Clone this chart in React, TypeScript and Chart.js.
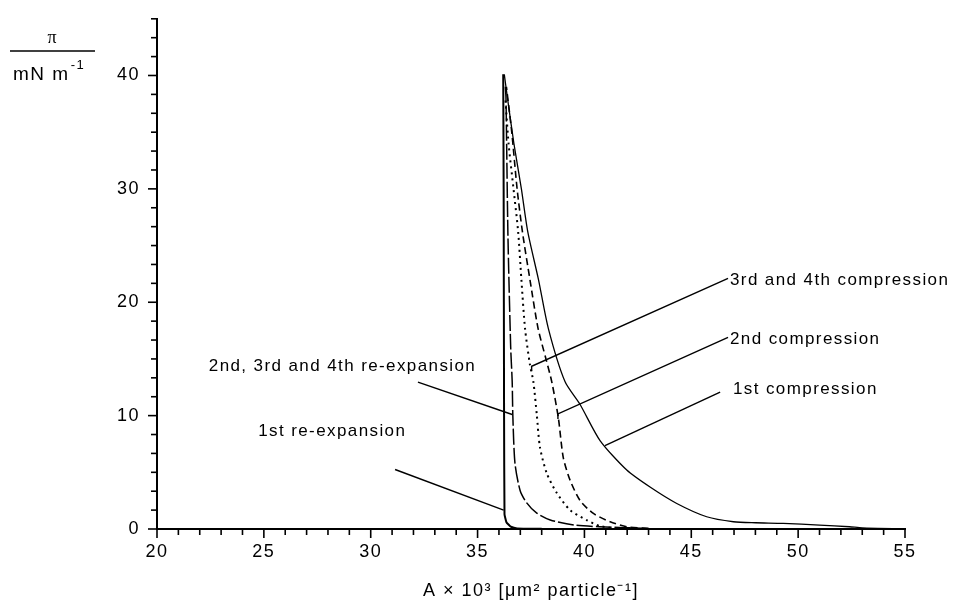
import React, { useEffect, useRef } from "react";
import { Chart, registerables } from "chart.js";
Chart.register(...registerables);

// ---- data (A × 10^3 µm² per particle, π in mN/m) ----
const firstCompA = [55, 53, 52.4, 51, 49.3, 48, 46.97, 45.72, 44.32, 43.07, 41.98, 40.73, 39.79, 39.09, 38.31, 37.85, 37.35, 37.05, 36.7, 36.4, 36.25];
const firstCompPi = [0.02, 0.1, 0.2, 0.35, 0.5, 0.55, 0.64, 1.08, 2.25, 3.7, 5.2, 7.8, 11.0, 13.0, 17.7, 22, 26.2, 30, 34, 38, 40.1];

const secondCompA = [43, 41.98, 41.2, 40.42, 39.8, 39.33, 39.01, 38.78, 38.47, 38.2, 37.83, 37.45, 37.1, 36.85, 36.6, 36.35];
const secondCompPi = [0.05, 0.2, 0.64, 1.37, 2.5, 4.3, 6.3, 9.8, 13, 15, 17.7, 22, 26.2, 30, 35, 39];

const thirdFourthCompA = [41.5, 40.73, 40.1, 39.33, 38.7, 38.24, 37.92, 37.77, 37.61, 37.45, 37.22, 37.05, 36.9, 36.67, 36.45, 36.3];
const thirdFourthCompPi = [0.05, 0.26, 0.79, 1.66, 3.2, 4.9, 7.2, 10.1, 13, 14.5, 17.7, 22, 26.2, 30.2, 34, 38];

const laterReExpA = [36.3, 36.33, 36.42, 36.55, 36.62, 36.65, 36.75, 36.99, 37.3, 37.77, 38.4, 39.5, 40.7, 43];
const laterReExpPi = [39, 38, 26, 16, 13, 10, 5.8, 3.4, 2.3, 1.4, 0.8, 0.35, 0.2, 0.05];

const firstReExpA = [36.2, 36.22, 36.24, 36.26, 36.35, 36.55, 36.85, 38];
const firstReExpPi = [40.1, 30, 10, 1.3, 0.6, 0.2, 0.05, 0.02];

// ---- axes ----
const xMin = 20, xMax = 55, xMinorStep = 1, xMajorStep = 5;
const yMin = 0, yMax = 45, yMinorStep = 10 / 6, yMajorStep = 10;

// ---- annotations ----
const annLabels = ["3rd and 4th compression", "2nd compression", "1st compression", "2nd, 3rd and 4th re-expansion", "1st re-expansion"];
const annTextA = [46.81, 46.81, 46.95, 28.68, 28.2];
const annTextPi = [21.96, 16.7, 12.3, 14.35, 8.66];
const annAlign = ["left", "left", "left", "center", "center"];
const annFromA = [46.72, 46.72, 46.35, 32.21, 31.14];
const annFromPi = [22.1, 16.9, 12.07, 12.95, 5.25];
const annToA = [37.53, 38.76, 40.96, 36.62, 36.22];
const annToPi = [14.35, 10.15, 7.35, 10.1, 1.66];
const annHook = [true, true, false, false, false];

const FONT = "'Liberation Sans', Arial, Helvetica, sans-serif";

function pts(a: number[], p: number[]) {
  return a.map((v, i) => ({ x: v, y: p[i] }));
}
function range(min: number, max: number, step: number) {
  const out: number[] = [];
  const n = Math.round((max - min) / step);
  for (let i = 0; i <= n; i++) out.push(min + i * step);
  return out;
}
function isMajor(v: number, step: number) {
  return Math.abs(v / step - Math.round(v / step)) < 1e-6;
}

const decor = {
  id: "decor",
  beforeDraw(chart: any) {
    chart.ctx.letterSpacing = "1.5px";
  },
  afterDraw(chart: any) {
    const { ctx, chartArea, scales } = chart;
    const xs = scales.x, ys = scales.y;
    ctx.save();
    ctx.strokeStyle = "#000";
    ctx.fillStyle = "#000";
    ctx.lineWidth = 1.6;
    // ticks
    for (const t of xs.ticks) {
      const px = xs.getPixelForValue(t.value);
      const len = isMajor(t.value, xMajorStep) ? 9 : 6;
      ctx.beginPath();
      ctx.moveTo(px, chartArea.bottom);
      ctx.lineTo(px, chartArea.bottom + len);
      ctx.stroke();
    }
    for (const t of ys.ticks) {
      const py = ys.getPixelForValue(t.value);
      const len = isMajor(t.value, yMajorStep) ? 9 : 6;
      ctx.beginPath();
      ctx.moveTo(chartArea.left, py);
      ctx.lineTo(chartArea.left - len, py);
      ctx.stroke();
    }
    // annotations
    ctx.lineWidth = 1.4;
    ctx.font = `17px ${FONT}`;
    ctx.letterSpacing = "1.4px";
    ctx.textBaseline = "middle";
    annLabels.forEach((lab, i) => {
      const x1 = xs.getPixelForValue(annFromA[i]);
      const y1 = ys.getPixelForValue(annFromPi[i]);
      const x2 = xs.getPixelForValue(annToA[i]);
      const y2 = ys.getPixelForValue(annToPi[i]);
      ctx.beginPath();
      ctx.moveTo(x1, y1);
      ctx.lineTo(x2, y2);
      if (annHook[i]) ctx.lineTo(x2, y2 + 5);
      ctx.stroke();
      ctx.textAlign = annAlign[i];
      ctx.fillText(lab, xs.getPixelForValue(annTextA[i]), ys.getPixelForValue(annTextPi[i]));
    });
    // y-axis title as fraction
    ctx.letterSpacing = "0px";
    ctx.textAlign = "center";
    ctx.font = `18px 'Liberation Serif', 'Times New Roman', serif`;
    ctx.fillText("π", 52, 38);
    ctx.lineWidth = 1.5;
    ctx.beginPath();
    ctx.moveTo(10, 51);
    ctx.lineTo(95, 51);
    ctx.stroke();
    ctx.font = `19px ${FONT}`;
    ctx.letterSpacing = "1.5px";
    ctx.textAlign = "left";
    ctx.textBaseline = "alphabetic";
    ctx.fillText("mN m", 13, 80);
    const w = ctx.measureText("mN m").width;
    ctx.font = `13px ${FONT}`;
    ctx.fillText("-1", 13 + w + 1, 69);
    ctx.restore();
  },
};

export default function App() {
  const ref = useRef<HTMLCanvasElement | null>(null);
  useEffect(() => {
    if (!ref.current) return;
    const common = { pointRadius: 0, borderColor: "#000", fill: false, tension: 0.25 };
    const chart = new Chart(ref.current, {
      type: "line",
      data: {
        datasets: [
          { ...common, label: "1st compression", data: pts(firstCompA, firstCompPi), borderWidth: 1.3 },
          { ...common, label: "2nd compression", data: pts(secondCompA, secondCompPi), borderWidth: 1.6, borderDash: [7, 4] },
          { ...common, label: "3rd and 4th compression", data: pts(thirdFourthCompA, thirdFourthCompPi), borderWidth: 2, borderDash: [2, 4] },
          { ...common, label: "2nd, 3rd and 4th re-expansion", data: pts(laterReExpA, laterReExpPi), borderWidth: 1.5, borderDash: [16, 3] },
          { ...common, label: "1st re-expansion", data: pts(firstReExpA, firstReExpPi), borderWidth: 2, tension: 0.1 },
        ],
      },
      options: {
        animation: false,
        responsive: false,
        maintainAspectRatio: false,
        layout: { padding: { top: 15, right: 58, left: 0, bottom: 0 } },
        plugins: { legend: { display: false }, tooltip: { enabled: false } },
        scales: {
          x: {
            type: "linear",
            min: xMin,
            max: xMax,
            afterBuildTicks: (s: any) => {
              s.ticks = range(xMin, xMax, xMinorStep).map((v) => ({ value: v }));
            },
            afterFit: (s: any) => {
              s.height = 81;
            },
            ticks: {
              autoSkip: false,
              maxRotation: 0,
              color: "#000",
              padding: 3,
              font: { family: FONT, size: 18 },
              callback: (v: any) => (isMajor(Number(v), xMajorStep) ? String(Math.round(Number(v))) : ""),
            },
            grid: { drawOnChartArea: false, tickLength: 9, tickColor: "rgba(0,0,0,0)" },
            border: { color: "#000", width: 2 },
            title: {
              display: true,
              text: "A × 10³ [μm² particle⁻¹]",
              color: "#000",
              font: { family: FONT, size: 18 },
              padding: { top: 4, bottom: 8 },
            },
          },
          y: {
            type: "linear",
            min: yMin,
            max: yMax,
            afterBuildTicks: (s: any) => {
              s.ticks = range(yMin, yMax, yMinorStep).map((v) => ({ value: v }));
            },
            afterFit: (s: any) => {
              s.width = 157;
            },
            ticks: {
              autoSkip: false,
              color: "#000",
              padding: 8,
              font: { family: FONT, size: 18 },
              callback: (v: any) => (isMajor(Number(v), yMajorStep) ? String(Math.round(Number(v))) : ""),
            },
            grid: { drawOnChartArea: false, tickLength: 9, tickColor: "rgba(0,0,0,0)" },
            border: { color: "#000", width: 2 },
          },
        },
      },
      plugins: [decor],
    } as any);
    return () => chart.destroy();
  }, []);
  return (
    <div style={{ position: "fixed", left: 0, top: 0, width: 963, height: 610, background: "#fff" }}>
      <canvas ref={ref} width={963} height={610} style={{ width: 963, height: 610 }} />
    </div>
  );
}
